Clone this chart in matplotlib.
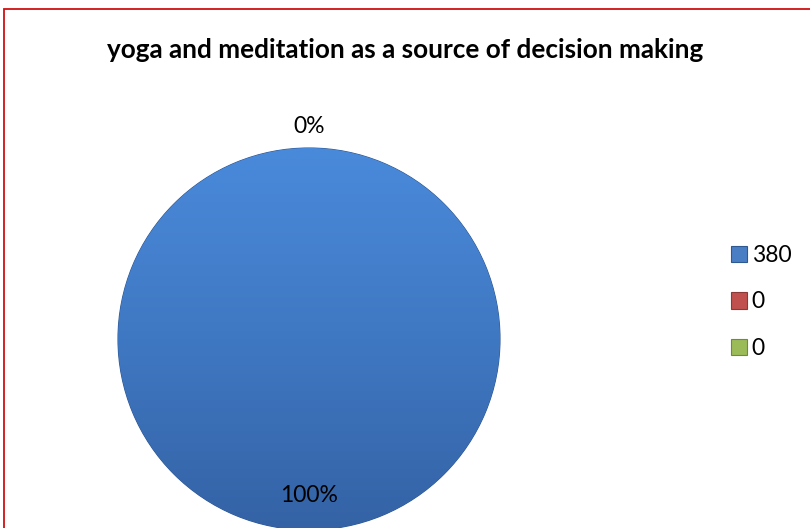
import numpy as np
import matplotlib
matplotlib.use("Agg")
import matplotlib.pyplot as plt
from matplotlib.patches import Rectangle, Patch
from matplotlib.colors import LinearSegmentedColormap

# data
labels = ["380", "0", "0"]
values = [380, 0, 0]
colors = ["#4A7EC4", "#C0504D", "#9BBB59"]
edges = ["#2F5790", "#8C3836", "#71893F"]
title = "yoga and meditation as a source of decision making"

plt.rcParams['font.family'] = ['Lato', 'DejaVu Sans']

fig = plt.figure(figsize=(8.10, 5.28), dpi=100)

# red frame round the chart (runs off right and bottom edges)
fig.patches.append(Rectangle((4 / 810, -0.05), 1.0, 1 - 9 / 528 + 0.05,
                             transform=fig.transFigure, fill=False,
                             edgecolor="#D01010", linewidth=1.3))

fig.text(0.5, 1 - 50 / 528, title, ha="center", va="center",
         fontsize=18.8, fontweight="bold")

ax = fig.add_axes([118 / 810, -2 / 528, 382 / 810, 382 / 528])
wedges, _ = ax.pie(values, colors=colors, startangle=90, counterclock=False,
                   wedgeprops=dict(linewidth=0.8, edgecolor="#2F5790"))
ax.set_xlim(-1, 1)
ax.set_ylim(-1, 1)

# vertical shading on the big slice
cmap = LinearSegmentedColormap.from_list("shade", ["#3462A5", "#3F78C2", "#4A8ADB"])
grad = np.linspace(0, 1, 256).reshape(-1, 1)
img = ax.imshow(grad, extent=(-1, 1, -1, 1), origin="lower", cmap=cmap,
                aspect="auto", zorder=wedges[0].get_zorder() + 0.1)
img.set_clip_path(wedges[0])

total = sum(values)
seen = set()
for w, v in zip(wedges, values):
    pct = v / total * 100
    mid = np.deg2rad((w.theta1 + w.theta2) / 2)
    r = 0.82 if pct > 50 else 1.11
    x, y = r * np.cos(mid), r * np.sin(mid)
    key = (round(x, 3), round(y, 3))
    if key in seen:
        continue
    seen.add(key)
    ax.text(x, y, f"{pct:.0f}%", ha="center", va="center", fontsize=16.5,
            zorder=5)

handles = [Patch(facecolor=c, edgecolor=e, linewidth=0.8) for c, e in zip(colors, edges)]
fig.legend(handles, labels, loc="center left", bbox_to_anchor=(0.8765, 1 - 302 / 528),
           frameon=False, fontsize=16.5, handlelength=0.7, handleheight=0.72,
           handletextpad=0.22, labelspacing=1.1)

fig.savefig("out.png", dpi=100)
